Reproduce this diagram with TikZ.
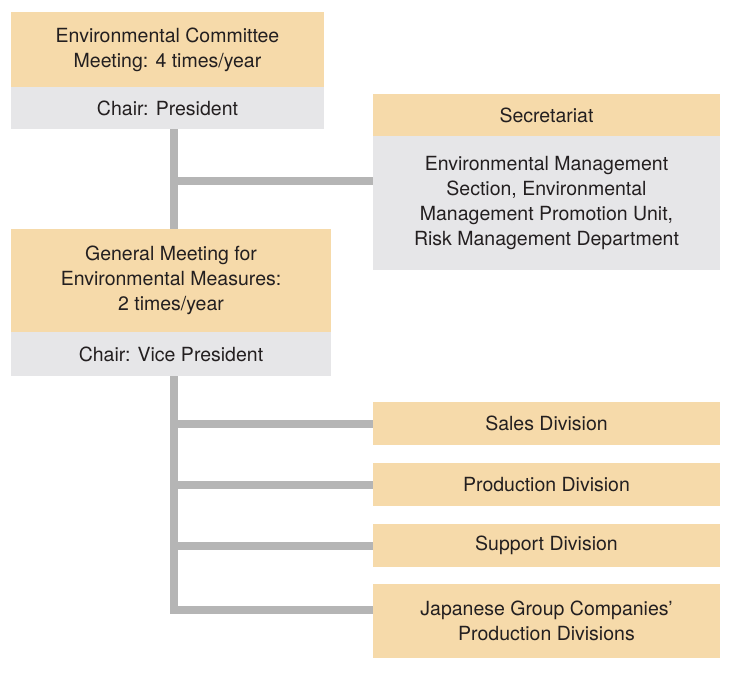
\documentclass[tikz,border=0pt]{standalone}
\usepackage{fontspec}
\setmainfont{TeX Gyre Heros}
\definecolor{orng}{HTML}{F6DAAA}
\definecolor{gry}{HTML}{E6E6E8}
\definecolor{lne}{HTML}{B5B5B5}
\definecolor{txt}{HTML}{231F20}
\begin{document}
\begin{tikzpicture}[x=1pt,y=-1pt,
  box/.style={anchor=north west,inner sep=0pt,outer sep=0pt,align=center,text=txt,font=\fontsize{19.5}{25}\selectfont},
  ob/.style={box,fill=orng},
  gb/.style={box,fill=gry},
  conn/.style={draw=lne,line width=8pt}]
\useasboundingbox (0,0) rectangle (733,672);
% boxes
\node[ob,minimum width=313pt,minimum height=75pt] (c1) at (11,12) {Environmental Committee\\Meeting: 4 times/year};
\node[gb,minimum width=313pt,minimum height=42pt] (c1g) at (11,87) {Chair: President};
\node[ob,minimum width=347pt,minimum height=42pt] (s1) at (373,94) {Secretariat};
\node[gb,minimum width=347pt,minimum height=134pt] (s1g) at (373,136) {Environmental Management\\Section, Environmental\\Management Promotion Unit,\\Risk Management Department};
\node[ob,minimum width=320pt,minimum height=103pt] (g1) at (11,229) {General Meeting for\\Environmental Measures:\\2 times/year};
\node[gb,minimum width=320pt,minimum height=44pt] (g1g) at (11,332) {Chair: Vice President};
\node[ob,minimum width=347pt,minimum height=43pt] (d1) at (373,402) {Sales Division};
\node[ob,minimum width=347pt,minimum height=43pt] (d2) at (373,463) {Production Division};
\node[ob,minimum width=347pt,minimum height=43pt] (d3) at (373,524) {Support Division};
\node[ob,minimum width=347pt,minimum height=74pt] (d4) at (373,584) {Japanese Group Companies’\\Production Divisions};
% connectors
\coordinate (t1) at (174,129);
\coordinate (t2) at (174,229);
\coordinate (j0) at (174,181);
\draw[conn] (t1) -- (t2);
\draw[conn] (j0) -- (j0 -| s1g.west);
\coordinate (b1) at (174,376);
\coordinate (b2) at (174,610);
\draw[conn] (b1) -- (b2) -- (b2 -| d4.west);
\foreach \n in {d1,d2,d3}{\draw[conn] (174,0 |- \n.center) -- (\n.west);}
\end{tikzpicture}
\end{document}
